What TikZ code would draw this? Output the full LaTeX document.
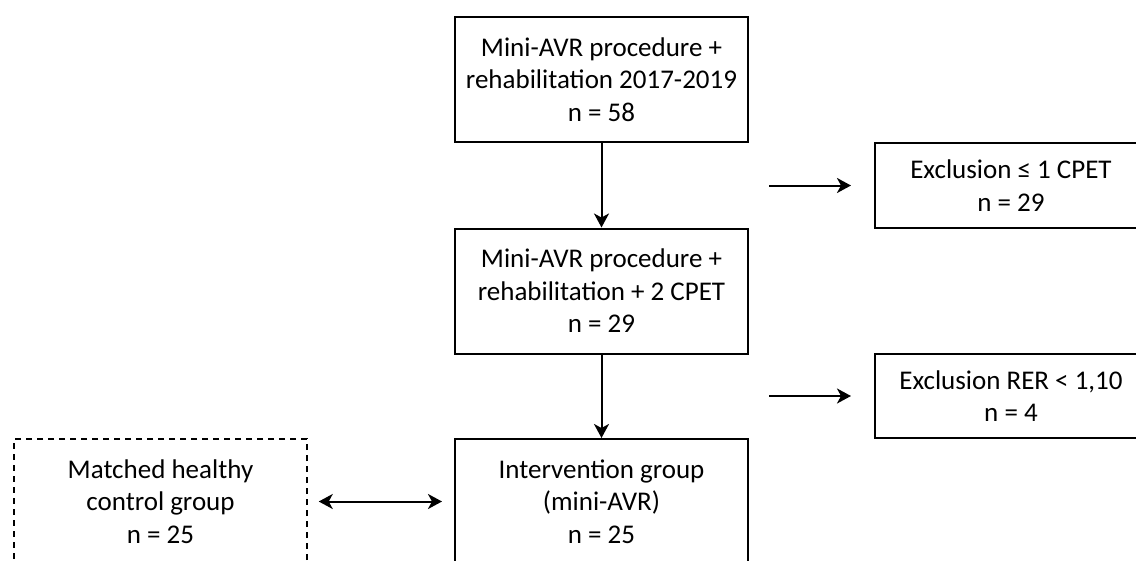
\documentclass[tikz,border=0pt]{standalone}
\usepackage{fontspec}
\setmainfont{Carlito}
\usetikzlibrary{arrows.meta}
\begin{document}
\begin{tikzpicture}[x=1pt,y=-1pt,
  box/.style={draw=black, line width=2pt, minimum width=293pt, minimum height=125pt, align=center, inner sep=0pt, font=\fontsize{27}{32.5}\selectfont},
  exbox/.style={box, minimum width=272pt, minimum height=85pt},
  ctrlbox/.style={box, line width=1.5pt, dash pattern=on 6pt off 5pt},
  arr/.style={line width=2pt, -{Stealth[length=14pt,width=15pt,inset=4pt]}},
  darr/.style={line width=2pt, {Stealth[length=14pt,width=15pt,inset=4pt]}-{Stealth[length=14pt,width=15pt,inset=4pt]}}
]
\useasboundingbox (0,0) rectangle (1136,560);
\clip (0,0) rectangle (1136,560);
\node[box] (top) at (601.5,79.5) {Mini-AVR procedure +\\rehabilitation 2017-2019\\n = 58};
\node[box] (mid) at (601.5,291) {Mini-AVR procedure +\\rehabilitation + 2 CPET\\n = 29};
\node[box] (int) at (601.5,501.5) {Intervention group\\(mini-AVR)\\n = 25};
\node[ctrlbox] (ctrl) at (160.5,501.5) {Matched healthy\\control group\\n = 25};
\node[exbox] (ex1) at (1011,185.5) {Exclusion ≤ 1 CPET\\n = 29};
\node[exbox, minimum height=84pt] (ex2) at (1011,396) {Exclusion RER < 1,10\\n = 4};
\draw[arr] (top) -- (mid);
\draw[arr] (mid) -- (int);
\draw[arr, shorten <=20pt, shorten >=23pt] (top.east |- ex1.west) -- (ex1.west);
\draw[arr, shorten <=20pt, shorten >=23pt] (mid.east |- ex2.west) -- (ex2.west);
\draw[darr, shorten <=11pt, shorten >=12pt] (ctrl.east) -- (int.west);
\end{tikzpicture}
\end{document}
